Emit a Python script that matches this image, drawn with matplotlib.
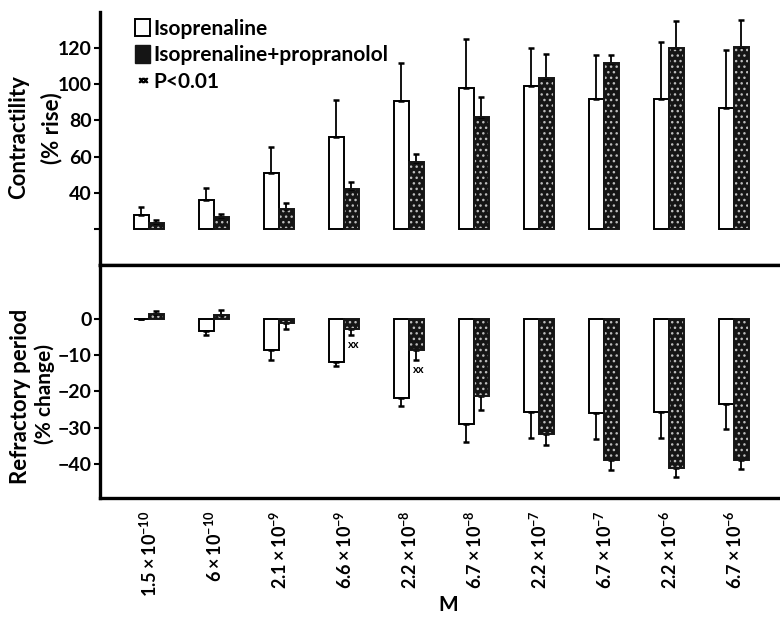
import matplotlib.pyplot as plt
import numpy as np
from matplotlib.patches import Patch
from matplotlib.lines import Line2D

# ==== data ====
doses = [r'$1.5\times10^{-10}$', r'$6\times10^{-10}$', r'$2.1\times10^{-9}$', r'$6.6\times10^{-9}$',
         r'$2.2\times10^{-8}$', r'$6.7\times10^{-8}$', r'$2.2\times10^{-7}$', r'$6.7\times10^{-7}$',
         r'$2.2\times10^{-6}$', r'$6.7\times10^{-6}$']

# contractility (% rise), bars drawn up from 20
contr_iso = [27.7, 36, 51, 71, 91, 98, 99, 92, 92, 87]
contr_iso_err = [4.5, 6.5, 14.5, 20.5, 21, 27, 21, 24, 31.5, 32]
contr_prop = [23, 26.5, 31, 42, 57, 82, 103.5, 112, 120, 120.5]
contr_prop_err = [2, 2, 3.5, 4, 4.5, 11, 13, 4, 15, 15]

# refractory period (% change)
refr_iso = [0, -3.2, -8.6, -11.8, -21.8, -29, -25.8, -26, -25.8, -23.4]
refr_iso_err = [0, 1.1, 2.8, 1.1, 2.2, 5, 7, 7.2, 7, 7]
refr_prop = [1.5, 1.1, -1.1, -2.8, -8.6, -21.2, -31.8, -39, -41, -38.8]
refr_prop_err = [0.8, 1.4, 1.8, 1.6, 2.7, 4, 3, 2.8, 2.7, 2.6]
signif = [3, 4]   # groups marked xx

plt.rcParams['font.family'] = ['Lato', 'DejaVu Sans']
plt.rcParams['font.weight'] = 'bold'
plt.rcParams['mathtext.fontset'] = 'custom'
plt.rcParams['mathtext.rm'] = 'Lato:bold'
plt.rcParams['mathtext.it'] = 'Lato:bold'
plt.rcParams['mathtext.bf'] = 'Lato:bold'

fig = plt.figure(figsize=(7.8, 6.17), dpi=100)
ax1 = fig.add_axes([0.128, 0.5705, 0.872, 0.41])
ax2 = fig.add_axes([0.128, 0.1929, 0.872, 0.3776])

x = np.arange(len(doses))
w = 0.23
xw = x - w / 2
xd = x + w / 2
dark = '#151515'
ekw = dict(fmt='none', ecolor='k', elinewidth=1.3, capsize=2.5, capthick=1.8)


def dark_bars(ax, xs, vals, bottom=0):
    ax.bar(xs, vals, w, bottom=bottom, color=dark, hatch='...', edgecolor='#bdbdbd', linewidth=0, zorder=2)
    ax.bar(xs, vals, w, bottom=bottom, fill=False, edgecolor=dark, linewidth=1.4, zorder=3)


# ==== top: contractility ====
base = 20
ax1.bar(xw, np.array(contr_iso) - base, w, bottom=base, color='white', edgecolor='k', linewidth=1.4, zorder=2)
dark_bars(ax1, xd, np.array(contr_prop) - base, bottom=base)
zeros = np.zeros(len(x))
ax1.errorbar(xw, contr_iso, yerr=[zeros, contr_iso_err], **ekw)
ax1.errorbar(xd, contr_prop, yerr=[zeros, contr_prop_err], **ekw)

ax1.set_ylim(0, 140)
ax1.set_yticks([20, 40, 60, 80, 100, 120])
ax1.set_yticklabels(['', '40', '60', '80', '100', '120'])
ax1.set_xticks([])
fig.text(0.024, 0.778, 'Contractility', rotation=90, ha='center', va='center', fontsize=16)
fig.text(0.066, 0.793, '(% rise)', rotation=90, ha='center', va='center', fontsize=16)

handles = [Patch(facecolor='white', edgecolor='k', linewidth=1.4),
           Patch(facecolor=dark, edgecolor=dark),
           Line2D([], [], marker=r'$\mathbf{xx}$', linestyle='none', color='k', markersize=6)]
ax1.legend(handles, ['Isoprenaline', 'Isoprenaline+propranolol', 'P<0.01'],
           loc='upper left', bbox_to_anchor=(0.03, 1.03), frameon=False, fontsize=15,
           handlelength=0.75, handleheight=0.9, handletextpad=0.15, labelspacing=0.3, borderpad=0.2)

# ==== bottom: refractory period ====
ax2.bar(xw, refr_iso, w, color='white', edgecolor='k', linewidth=1.4, zorder=2)
dark_bars(ax2, xd, refr_prop)
ri = np.array(refr_iso)
rp = np.array(refr_prop)
ax2.errorbar(xw, refr_iso, yerr=[np.where(ri < 0, refr_iso_err, 0), np.where(ri > 0, refr_iso_err, 0)], **ekw)
ax2.errorbar(xd, refr_prop, yerr=[np.where(rp < 0, refr_prop_err, 0), np.where(rp > 0, refr_prop_err, 0)], **ekw)
for g in signif:
    ax2.text(xd[g] + 0.03, refr_prop[g] - refr_prop_err[g] - 1.2, 'xx', ha='center', va='top',
             fontsize=8, fontweight='bold')

ax2.set_ylim(-49.4, 14.9)
ax2.set_yticks([0, -10, -20, -30, -40])
ax2.set_yticklabels(['0', '\u221210', '\u221220', '\u221230', '\u221240'])
fig.text(0.026, 0.357, 'Refractory period', rotation=90, ha='center', va='center', fontsize=16)
fig.text(0.057, 0.362, '(% change)', rotation=90, ha='center', va='center', fontsize=15)
ax2.set_xticks(x)
ax2.set_xticklabels(doses, rotation=90, fontsize=13)
ax2.tick_params(axis='x', length=0, pad=9)
fig.text(0.574, 0.019, 'M', ha='center', va='center', fontsize=15)

for ax in (ax1, ax2):
    ax.set_xlim(-0.754, 9.71)
    ax.spines['right'].set_visible(False)
    ax.tick_params(axis='y', labelsize=14, length=4, width=1.5, pad=2)
    for s in ax.spines.values():
        s.set_linewidth(2.4)
ax1.spines['top'].set_visible(False)

fig.savefig('out.png', dpi=100)
